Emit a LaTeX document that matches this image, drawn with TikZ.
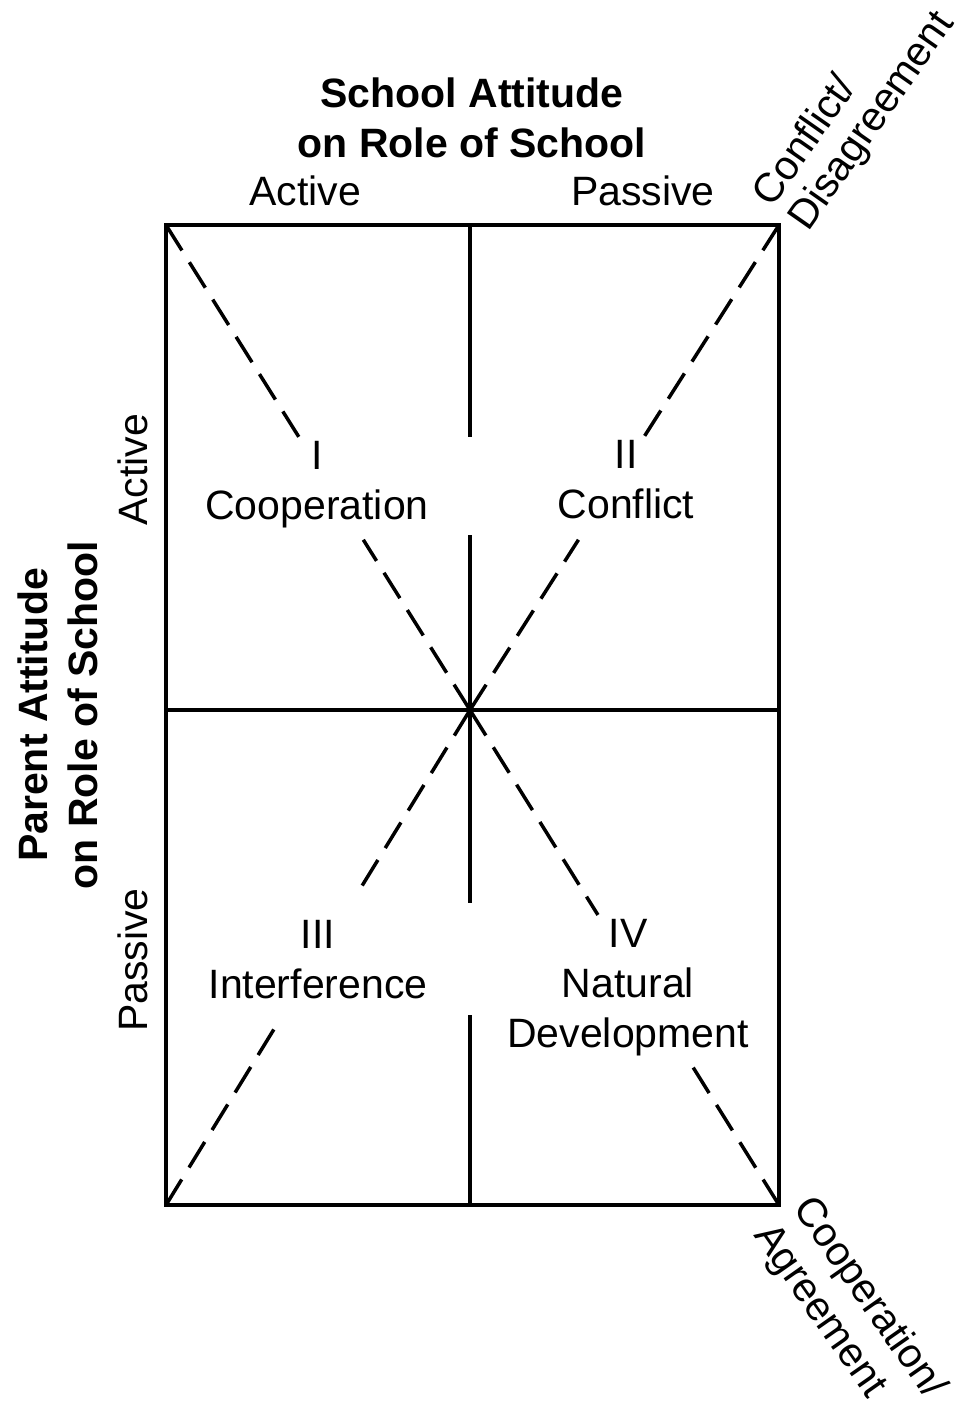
\documentclass[tikz,border=0pt]{standalone}
\usepackage{fontspec}
\setmainfont{Liberation Sans}
\usetikzlibrary{calc}
\begin{document}
\begin{tikzpicture}[x=0.5pt,y=-0.5pt,
  frame/.style={line width=1.75pt, line join=miter},
  dashline/.style={line width=1.75pt, dash pattern=on 15pt off 7pt},
  lbl/.style={font=\fontsize{20.5}{25}\selectfont, inner sep=0pt, align=center},
  blbl/.style={font=\fontsize{20.5}{25}\selectfont\bfseries, inner sep=0pt, align=center}]
\useasboundingbox (0,0) rectangle (958,1402);
% frame coordinates
\coordinate (TL) at (166,225);
\coordinate (TR) at (779,225);
\coordinate (BL) at (166,1205);
\coordinate (BR) at (779,1205);
\coordinate (C) at (470,710);
\coordinate (ML) at (166,710);
\coordinate (MR) at (779,710);
\coordinate (TM) at (470,225);
\coordinate (BM) at (470,1205);
\coordinate (v1) at (470,437);
\coordinate (v2) at (470,535);
\coordinate (v3) at (470,903);
\coordinate (v4) at (470,1015);
% frame and axes
\draw[frame] (TL) rectangle (BR);
\draw[frame] (ML) -- (MR);
\draw[frame] (TM) -- (v1);
\draw[frame] (v2) -- (v3);
\draw[frame] (v4) -- (BM);
% dashed diagonals
\draw[dashline] (TL) -- ($(TL)!0.443!(C)$);
\draw[dashline] (C) -- ($(C)!0.351!(TL)$);
\draw[dashline] (TR) -- ($(TR)!0.443!(C)$);
\draw[dashline] (C) -- ($(C)!0.351!(TR)$);
\draw[dashline] (C) -- ($(C)!0.378!(BL)$);
\draw[dashline] (BL) -- ($(BL)!0.374!(C)$);
\draw[dashline] (C) -- ($(C)!0.414!(BR)$);
\draw[dashline] (BR) -- ($(BR)!0.283!(C)$);
% titles
\node[blbl] (stitle) at (472,118) {School Attitude\\on Role of School};
\node[lbl] (sA) at (305,191) {Active};
\node[lbl] (sP) at (643,191) {Passive};
\node[blbl, rotate=90] (ptitle) at (58,715) {Parent Attitude\\on Role of School};
\node[lbl, rotate=90] (pA) at (133,470) {Active};
\node[lbl, rotate=90] (pP) at (133,960) {Passive};
% quadrant labels
\node[lbl] (q1) at (317,485) {I\\Cooperation};
\node[lbl] (q2) at (626,480) {II\\Conflict};
\node[lbl] (q3) at (318,960) {III\\Interference};
\node[lbl] (q4) at (628,988) {IV\\Natural\\Development};
% corner labels
\node[lbl, rotate=55, anchor=base west] (cd1) at (772,209) {Conflict/};
\node[lbl, rotate=55, anchor=base west] (cd2) at (808,233) {Disagreement};
\node[lbl, rotate=-55, anchor=base west] (ca1) at (792,1208) {Cooperation/};
\node[lbl, rotate=-55, anchor=base west] (ca2) at (753,1235) {Agreement};
\end{tikzpicture}
\end{document}
